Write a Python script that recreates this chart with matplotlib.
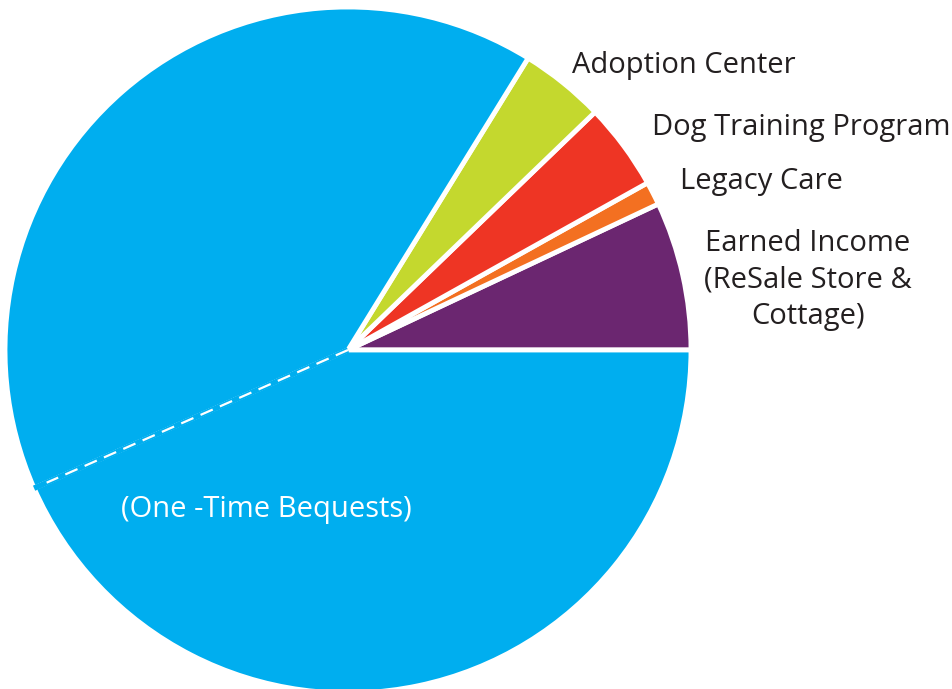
import numpy as np
import matplotlib.pyplot as plt

labels = ['Earned Income\n(ReSale Store &\nCottage)', 'Legacy Care', 'Dog Training Program',
          'Adoption Center', '', '(One -Time Bequests)']
shares = [7.0, 1.1, 4.1, 4.0, 40.4, 43.4]
colors = ['#6B2670', '#F37021', '#EE3524', '#C4D82E', '#00AEEF', '#00AEEF']

fig = plt.figure(figsize=(9.53, 6.89), dpi=100)
ax = fig.add_axes([5 / 953, -4 / 689, 686 / 953, 686 / 689])
wedges, _ = ax.pie(shares, colors=colors, startangle=0, counterclock=True,
                   wedgeprops=dict(edgecolor='white', linewidth=3.5))
ax.set_xlim(-1, 1)
ax.set_ylim(-1, 1)
ax.set_aspect('equal')
ax.axis('off')

# dashed split between the two blue parts
ang = np.deg2rad(360 * sum(shares[:5]) / sum(shares))
ax.plot([0, np.cos(ang)], [0, np.sin(ang)], color='#00AEEF', lw=4, solid_capstyle='butt')
ax.plot([0, 0.96 * np.cos(ang)], [0, 0.96 * np.sin(ang)], color='white', lw=1.6,
        dashes=(6, 3.5))

font = 'Open Sans'
tc = '#231F20'
fs = 21
fig.text(572 / 953, 1 - 65 / 689, labels[3], fontsize=fs, color=tc, family=font, va='center')
fig.text(652 / 953, 1 - 128 / 689, labels[2], fontsize=fs, color=tc, family=font, va='center')
fig.text(680 / 953, 1 - 181 / 689, labels[1], fontsize=fs, color=tc, family=font, va='center')
fig.text(808 / 953, 1 - 280 / 689, labels[0], fontsize=fs, color=tc, family=font,
         va='center', ha='center', linespacing=1.32)
fig.text(266 / 953, 1 - 510 / 689, labels[5], fontsize=fs, color='white', family=font,
         va='center', ha='center')

fig.savefig('out.png', dpi=100)
